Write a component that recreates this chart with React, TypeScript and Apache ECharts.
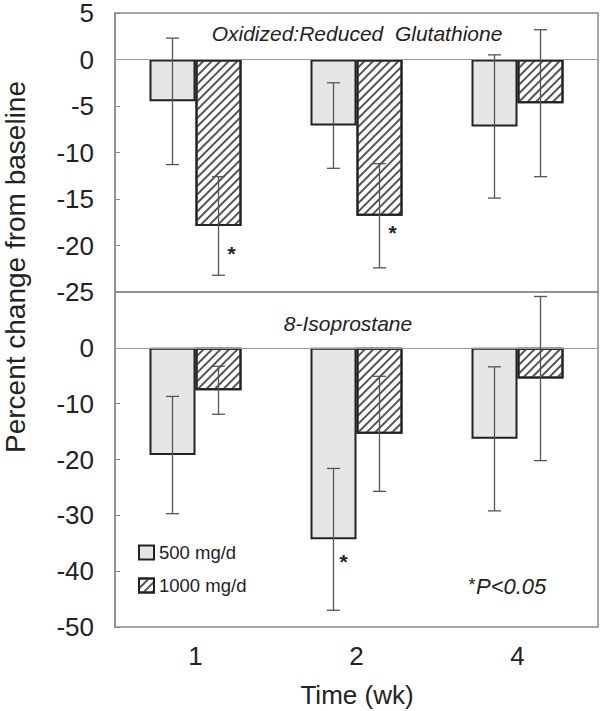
import React, { useEffect, useRef } from 'react';
import * as echarts from 'echarts';

const weeks = ['1', '2', '4'];
const seriesNames = ['500 mg/d', '1000 mg/d'];
const panelTitles = ['Oxidized:Reduced  Glutathione', '8-Isoprostane'];

// Top panel: Oxidized:Reduced Glutathione (% change from baseline)
const gsh500 = [-4.5, -7.1, -7.2];
const gsh500Err = [6.8, 4.6, 7.7];
const gsh1000 = [-17.9, -16.8, -4.7];
const gsh1000Err = [5.3, 5.6, 7.9];
const gshStars1000: (number | null)[] = [-20.3, -18.1, null];

// Bottom panel: 8-Isoprostane
const iso500 = [-19.2, -34.3, -16.3];
const iso500Err = [10.5, 12.7, 12.9];
const iso1000 = [-7.6, -15.4, -5.5];
const iso1000Err = [4.3, 10.3, 14.7];
const isoStars500: (number | null)[] = [null, -37.4, null];

const FONT = '"Liberation Sans", Arial, sans-serif';
const BAR_W = 46;

const errorRender = (offset: number) => (params: any, api: any) => {
  const cat = api.value(0);
  const mean = api.value(1);
  const err = api.value(2);
  const top = api.coord([cat, mean + err]);
  const bot = api.coord([cat, mean - err]);
  const x = top[0] + offset;
  const cap = 6.5;
  const style = { stroke: '#555', lineWidth: 1.3 };
  return {
    type: 'group',
    children: [
      { type: 'line', shape: { x1: x, y1: top[1], x2: x, y2: bot[1] }, style },
      { type: 'line', shape: { x1: x - cap, y1: top[1], x2: x + cap, y2: top[1] }, style },
      { type: 'line', shape: { x1: x - cap, y1: bot[1], x2: x + cap, y2: bot[1] }, style },
    ],
  };
};

const starRender = (offset: number) => (params: any, api: any) => {
  const p = api.coord([api.value(0), api.value(1)]);
  return {
    type: 'text',
    x: p[0] + offset,
    y: p[1] + 5,
    style: {
      text: '*',
      font: 'bold 21px ' + FONT,
      fill: '#222',
      textAlign: 'center',
      textVerticalAlign: 'middle',
    },
  };
};

const bar500Style = { color: '#e6e6e6', borderColor: '#222', borderWidth: 2 };
const bar1000Style = {
  color: '#ffffff',
  borderColor: '#222',
  borderWidth: 2,
  decal: {
    symbol: 'rect',
    symbolSize: 1,
    dashArrayX: [1, 0],
    dashArrayY: [1.4, 4],
    rotation: -Math.PI / 4,
    color: '#555',
  },
};

const zeroLine = {
  silent: true,
  symbol: 'none',
  label: { show: false },
  lineStyle: { color: '#9a9a9a', width: 1, type: 'solid' },
  data: [{ yAxis: 0 }],
};

const errData = (m: number[], e: number[]) => m.map((v, i) => [i, v, e[i]]);
const starData = (s: (number | null)[]) =>
  s.map((v, i) => (v === null ? null : [i, v])).filter((d) => d !== null);

export default function App() {
  const ref = useRef<HTMLDivElement>(null);
  useEffect(() => {
    if (!ref.current) return;
    const chart = echarts.init(ref.current, undefined, { renderer: 'svg' });
    const yAxisCommon = {
      type: 'value',
      axisLine: { show: true, lineStyle: { color: '#8a8a8a', width: 1.5 } },
      axisTick: { show: true, inside: true, length: 5, lineStyle: { color: '#8a8a8a' } },
      splitLine: { show: false },
      axisLabel: { fontSize: 26, lineHeight: 20, fontFamily: FONT, color: '#222', margin: 21 },
    };
    const option: any = {
      animation: false,
      backgroundColor: '#fff',
      textStyle: { fontFamily: FONT },
      grid: [
        { left: 115, top: 11, width: 483, height: 281, show: true, borderColor: '#8a8a8a', borderWidth: 1.5 },
        { left: 115, top: 292, width: 483, height: 335, show: true, borderColor: '#8a8a8a', borderWidth: 1.5 },
      ],
      xAxis: [
        {
          gridIndex: 0,
          type: 'category',
          data: weeks,
          axisLine: { show: false },
          axisTick: { show: false },
          axisLabel: { show: false },
        },
        {
          gridIndex: 1,
          type: 'category',
          data: weeks,
          axisLine: { show: false },
          axisTick: { show: false },
          axisLabel: { fontSize: 26, fontFamily: FONT, color: '#222', margin: 16 },
        },
      ],
      yAxis: [
        { ...yAxisCommon, gridIndex: 0, min: -25, max: 5, interval: 5 },
        {
          ...yAxisCommon,
          gridIndex: 1,
          min: -50,
          max: 10,
          interval: 10,
          axisLabel: { ...yAxisCommon.axisLabel, formatter: (v: number) => (v === 10 ? '' : String(v)) },
        },
      ],
      legend: {
        orient: 'vertical',
        left: 138,
        top: 543,
        padding: 0,
        icon: 'rect',
        itemWidth: 15,
        itemHeight: 14,
        itemGap: 14,
        textStyle: { fontSize: 18.5, fontFamily: FONT, color: '#222' },
        data: seriesNames,
      },
      series: [
        {
          name: seriesNames[0], type: 'bar', xAxisIndex: 0, yAxisIndex: 0,
          data: gsh500, barWidth: BAR_W, barGap: '0%', itemStyle: bar500Style, markLine: zeroLine,
        },
        {
          name: seriesNames[1], type: 'bar', xAxisIndex: 0, yAxisIndex: 0,
          data: gsh1000, barWidth: BAR_W, barGap: '0%', itemStyle: bar1000Style,
        },
        {
          name: seriesNames[0], type: 'bar', xAxisIndex: 1, yAxisIndex: 1,
          data: iso500, barWidth: BAR_W, barGap: '0%', itemStyle: bar500Style, markLine: zeroLine,
        },
        {
          name: seriesNames[1], type: 'bar', xAxisIndex: 1, yAxisIndex: 1,
          data: iso1000, barWidth: BAR_W, barGap: '0%', itemStyle: bar1000Style,
        },
        { type: 'custom', xAxisIndex: 0, yAxisIndex: 0, z: 5, renderItem: errorRender(-BAR_W / 2), data: errData(gsh500, gsh500Err) },
        { type: 'custom', xAxisIndex: 0, yAxisIndex: 0, z: 5, renderItem: errorRender(BAR_W / 2), data: errData(gsh1000, gsh1000Err) },
        { type: 'custom', xAxisIndex: 1, yAxisIndex: 1, z: 5, renderItem: errorRender(-BAR_W / 2), data: errData(iso500, iso500Err) },
        { type: 'custom', xAxisIndex: 1, yAxisIndex: 1, z: 5, renderItem: errorRender(BAR_W / 2), data: errData(iso1000, iso1000Err) },
        { type: 'custom', xAxisIndex: 0, yAxisIndex: 0, z: 6, renderItem: starRender(BAR_W / 2 + 13), data: starData(gshStars1000) },
        { type: 'custom', xAxisIndex: 1, yAxisIndex: 1, z: 6, renderItem: starRender(-BAR_W / 2 + 10), data: starData(isoStars500) },
      ],
      graphic: [
        {
          type: 'text', x: 357, y: 33, z: 10,
          style: { text: panelTitles[0], font: 'italic 21px ' + FONT, fill: '#222', textAlign: 'center', textVerticalAlign: 'middle' },
        },
        {
          type: 'text', x: 348, y: 323.5, z: 10,
          style: { text: panelTitles[1], font: 'italic 21px ' + FONT, fill: '#222', textAlign: 'center', textVerticalAlign: 'middle' },
        },
        {
          type: 'text', x: 15, y: 267, rotation: Math.PI / 2, z: 10,
          style: { text: 'Percent change from baseline', font: '28px ' + FONT, lineHeight: 24, fill: '#222', textAlign: 'center', textVerticalAlign: 'middle' },
        },
        {
          type: 'text', x: 357, y: 695, z: 10,
          style: { text: 'Time (wk)', font: '26px ' + FONT, fill: '#222', textAlign: 'center', textVerticalAlign: 'middle' },
        },
        {
          type: 'text', x: 472, y: 584.5, z: 10,
          style: { text: '*', font: '18px ' + FONT, fill: '#222', textAlign: 'center', textVerticalAlign: 'middle' },
        },
        {
          type: 'text', x: 476, y: 586.5, z: 10,
          style: { text: 'P<0.05', font: 'italic 22px ' + FONT, fill: '#222', textAlign: 'left', textVerticalAlign: 'middle' },
        },
      ],
    };
    chart.setOption(option);
    return () => chart.dispose();
  }, []);
  return (
    <div
      ref={ref}
      style={{ position: 'fixed', left: 0, top: 0, width: 600, height: 711, background: '#fff' }}
    />
  );
}
